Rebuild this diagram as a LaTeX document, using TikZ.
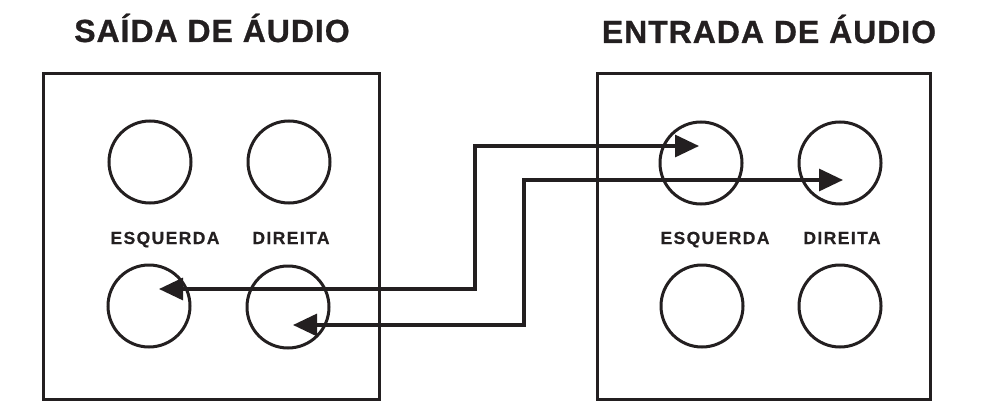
\documentclass[tikz,border=0pt]{standalone}
\usepackage{fontspec}
\setmainfont{Liberation Sans}
\usetikzlibrary{arrows.meta}
\definecolor{ink}{HTML}{231F20}
\begin{document}
\begin{tikzpicture}[x=1pt,y=-1pt,
  panel/.style={draw=ink,line width=3pt},
  jack/.style={circle,draw=ink,line width=3pt,minimum size=82pt,inner sep=0pt},
  title/.style={text=ink,font=\fontsize{32}{32}\selectfont\bfseries\addfontfeature{LetterSpace=3,FakeBold=0.8},anchor=base,inner sep=0pt},
  lbl/.style={text=ink,font=\fontsize{17.5}{17.5}\selectfont\bfseries\addfontfeature{LetterSpace=8,FakeBold=0.6},anchor=base,inner sep=0pt},
  wire/.style={draw=ink,line width=3.2pt,{Triangle[length=24pt,width=22pt]}-{Triangle[length=24pt,width=22pt]}}]
\useasboundingbox (0,0) rectangle (992,401);
% panels
\draw[panel] (43,74) rectangle (379,399);
\draw[panel] (597,74) rectangle (930,399);
% titles
\node[title] (t1) at (212,42) {SAÍDA DE ÁUDIO};
\node[title] (t2) at (769,43) {ENTRADA DE ÁUDIO};
% jacks left
\node[jack] (lTL) at (150,162) {};
\node[jack] (lTR) at (289,162) {};
\node[jack] (lBL) at (149,306) {};
\node[jack] (lBR) at (288,307) {};
% jacks right
\node[jack] (rTL) at (701,163) {};
\node[jack] (rTR) at (840,163) {};
\node[jack] (rBL) at (702,306) {};
\node[jack] (rBR) at (840,306) {};
% labels
\node[lbl] (l1) at (165,244) {ESQUERDA};
\node[lbl] (l2) at (291,244) {DIREITA};
\node[lbl] (l3) at (715,244) {ESQUERDA};
\node[lbl] (l4) at (842,244) {DIREITA};
% wire endpoints
\coordinate (a1) at (699,146);
\coordinate (a2) at (159,289);
\coordinate (b1) at (843,180);
\coordinate (b2) at (293,325);
\coordinate (ka) at (475,289);
\coordinate (kb) at (524,325);
\draw[wire] (a1) -| (ka) -- (a2);
\draw[wire] (b1) -| (kb) -- (b2);
\end{tikzpicture}
\end{document}
